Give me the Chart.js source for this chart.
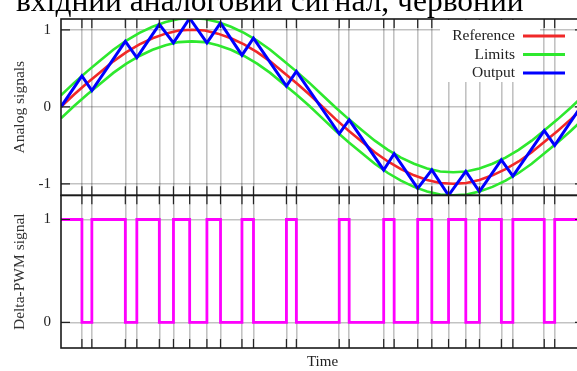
<!DOCTYPE html>
<html>
<head>
<meta charset="utf-8">
<script src="https://cdn.jsdelivr.net/npm/chart.js@4.4.1/dist/chart.umd.min.js"></script>
<style>
  html, body { margin: 0; padding: 0; background: #fff; overflow: hidden; }
  #wrap { position: relative; width: 600px; height: 371px; }
  #caption { position: absolute; left: 16px; top: -14px; font-family: "Liberation Serif", serif; font-size: 31.5px; line-height: 30px; white-space: nowrap; color: #000; z-index: 2; }
</style>
</head>
<body>
<div id="wrap">
  <div id="caption">вхідний аналоговий сигнал, червоний</div>
  <canvas id="chart" width="600" height="371"></canvas>
</div>
<script>
// Час у частках періоду (0..1), ось X
const refTimes = [0, 0.025, 0.05, 0.075, 0.1, 0.125, 0.15, 0.175, 0.2, 0.225, 0.25, 0.275, 0.3, 0.325, 0.35, 0.375, 0.4, 0.425, 0.45, 0.475, 0.5,
  0.525, 0.55, 0.575, 0.6, 0.625, 0.65, 0.675, 0.7, 0.725, 0.75, 0.775, 0.8, 0.825, 0.85, 0.875, 0.9, 0.925, 0.95, 0.975, 1];

// Вхідний аналоговий сигнал (червоний)
const refValues = [0, 0.16, 0.31, 0.45, 0.59, 0.71, 0.81, 0.89, 0.95, 0.99, 1, 0.99, 0.95, 0.89, 0.81, 0.71, 0.59, 0.45, 0.31, 0.16, 0,
  -0.16, -0.31, -0.45, -0.59, -0.71, -0.81, -0.89, -0.95, -0.99, -1, -0.99, -0.95, -0.89, -0.81, -0.71, -0.59, -0.45, -0.31, -0.16, 0];

// Межі (зелені)
const upperLimit = [0.15, 0.31, 0.46, 0.6, 0.74, 0.86, 0.96, 1.04, 1.1, 1.14, 1.15, 1.14, 1.1, 1.04, 0.96, 0.86, 0.74, 0.6, 0.46, 0.31, 0.15,
  -0.01, -0.16, -0.3, -0.44, -0.56, -0.66, -0.74, -0.8, -0.84, -0.85, -0.84, -0.8, -0.74, -0.66, -0.56, -0.44, -0.3, -0.16, -0.01, 0.15];
const lowerLimit = [-0.15, 0.01, 0.16, 0.3, 0.44, 0.56, 0.66, 0.74, 0.8, 0.84, 0.85, 0.84, 0.8, 0.74, 0.66, 0.56, 0.44, 0.3, 0.16, 0.01, -0.15,
  -0.31, -0.46, -0.6, -0.74, -0.86, -0.96, -1.04, -1.1, -1.14, -1.15, -1.14, -1.1, -1.04, -0.96, -0.86, -0.74, -0.6, -0.46, -0.31, -0.15];

// Моменти перемикання (вертикальні лінії сітки)
const switchTimes = [0.040, 0.059, 0.123, 0.145, 0.188, 0.215, 0.246, 0.279, 0.305, 0.346, 0.368, 0.431, 0.450,
  0.532, 0.551, 0.617, 0.637, 0.682, 0.709, 0.741, 0.774, 0.800, 0.842, 0.864, 0.924, 0.944];

// Вихід (синій) у точках перемикання
const outTimes = [0, ...switchTimes, 1];
const outValues = [0, 0.40, 0.21, 0.85, 0.64, 1.07, 0.83, 1.15, 0.83, 1.09, 0.67, 0.89, 0.27, 0.46,
  -0.35, -0.17, -0.82, -0.61, -1.06, -0.82, -1.15, -0.84, -1.10, -0.69, -0.90, -0.31, -0.50, 0.06];

// Delta-PWM сигнал (рівень від кожного моменту)
const pwmTimes = [0, ...switchTimes, 1];
const pwmLevels = [1, 0, 1, 0, 1, 0, 1, 0, 1, 0, 1, 0, 1, 0, 1, 0, 1, 0, 1, 0, 1, 0, 1, 0, 1, 0, 1, 1];

const analogTicks = [-1, 0, 1];
const pwmTicks = [0, 1];

const serif = '"Liberation Serif", "Times New Roman", serif';
const toPoints = (xs, ys) => ys.map((y, i) => ({ x: xs[i], y: y }));

const legendItems = [
  { label: 'Reference', color: '#f02828' },
  { label: 'Limits', color: '#2ee82e' },
  { label: 'Output', color: '#0000ff' }
];

// Рамка, внутрішні засічки та легенда в стилі gnuplot
const framePlugin = {
  id: 'frame',
  afterDatasetsDraw(chart) {
    const { ctx, chartArea: a, scales: { x, yA, yP } } = chart;
    const tick = 9;
    ctx.save();
    ctx.strokeStyle = '#222';
    ctx.lineWidth = 1.2;
    ctx.beginPath();
    switchTimes.forEach(t => {
      const px = x.getPixelForValue(t);
      [[yA.top, tick], [yA.bottom, -tick], [yP.top, tick], [yP.bottom, -tick]].forEach(([y0, d]) => {
        ctx.moveTo(px, y0); ctx.lineTo(px, y0 + d);
      });
    });
    [[yA, analogTicks], [yP, pwmTicks]].forEach(([s, vals]) => {
      vals.forEach(v => {
        const py = s.getPixelForValue(v);
        ctx.moveTo(a.left, py); ctx.lineTo(a.left + tick, py);
        ctx.moveTo(a.right, py); ctx.lineTo(a.right - tick, py);
      });
    });
    ctx.stroke();

    // легенда
    const bx = a.right - 144, by = yA.top + 1;
    ctx.fillStyle = '#fff';
    ctx.fillRect(bx, by, 100, 62);
    ctx.font = '15.5px ' + serif;
    ctx.textAlign = 'right';
    ctx.textBaseline = 'middle';
    legendItems.forEach((it, i) => {
      const ly = yA.top + 17 + i * 18.5;
      ctx.fillStyle = '#222';
      ctx.fillText(it.label, a.right - 69, ly);
      ctx.strokeStyle = it.color;
      ctx.lineWidth = 3;
      ctx.beginPath();
      ctx.moveTo(a.right - 61, ly); ctx.lineTo(a.right - 19, ly);
      ctx.stroke();
    });

    // рамки обох графіків
    ctx.strokeStyle = '#1a1a1a';
    ctx.lineWidth = 1.6;
    ctx.strokeRect(a.left, yA.top, a.right - a.left, yA.bottom - yA.top);
    ctx.strokeRect(a.left, yP.top, a.right - a.left, yP.bottom - yP.top);
    ctx.restore();
  }
};

const gridColor = 'rgba(0,0,0,0.24)';

new Chart(document.getElementById('chart'), {
  type: 'line',
  data: {
    datasets: [
      { label: 'Output', data: toPoints(outTimes, outValues), yAxisID: 'yA', borderColor: '#0000ff', borderWidth: 3, pointRadius: 0, order: 0 },
      { label: 'Limits', data: toPoints(refTimes, upperLimit), yAxisID: 'yA', borderColor: '#2ee82e', borderWidth: 2.6, pointRadius: 0, order: 1 },
      { label: 'Limits', data: toPoints(refTimes, lowerLimit), yAxisID: 'yA', borderColor: '#2ee82e', borderWidth: 2.6, pointRadius: 0, order: 1 },
      { label: 'Reference', data: toPoints(refTimes, refValues), yAxisID: 'yA', borderColor: '#f02828', borderWidth: 2.6, pointRadius: 0, order: 2 },
      { label: 'Delta-PWM', data: toPoints(pwmTimes, pwmLevels), yAxisID: 'yP', borderColor: '#ff00ff', borderWidth: 2.8, pointRadius: 0, stepped: 'before', order: 0 }
    ]
  },
  options: {
    responsive: false,
    animation: false,
    events: [],
    layout: { padding: { left: 0, top: 15, right: 16, bottom: 0 } },
    plugins: { legend: { display: false }, tooltip: { enabled: false } },
    scales: {
      x: {
        type: 'linear', min: 0, max: 1,
        afterBuildTicks: s => { s.ticks = switchTimes.map(v => ({ value: v })); },
        afterFit: s => { s.height = 23; },
        ticks: { display: false },
        grid: { color: gridColor, lineWidth: 1.6, drawTicks: false },
        border: { display: false },
        title: { display: true, text: 'Time', font: { family: serif, size: 15 }, color: '#222', padding: 0 }
      },
      yA: {
        type: 'linear', position: 'left', stack: 'plots', stackWeight: 178.5, weight: 1,
        min: -1.15, max: 1.14,
        afterBuildTicks: s => { s.ticks = analogTicks.map(v => ({ value: v })); },
        afterFit: s => { s.width = 61; },
        ticks: { font: { family: serif, size: 15 }, color: '#222', padding: 10, callback: v => String(v) },
        grid: { color: gridColor, lineWidth: 1.6, drawTicks: false },
        border: { display: false },
        title: { display: true, text: 'Analog signals', font: { family: serif, size: 15.5 }, color: '#333', padding: { top: 11 } }
      },
      yP: {
        type: 'linear', position: 'left', stack: 'plots', stackWeight: 154.5, weight: 0,
        min: -0.25, max: 1.235,
        afterBuildTicks: s => { s.ticks = pwmTicks.map(v => ({ value: v })); },
        afterFit: s => { s.width = 61; },
        ticks: { font: { family: serif, size: 15 }, color: '#222', padding: 10, callback: v => String(v) },
        grid: { color: gridColor, lineWidth: 1.6, drawTicks: false },
        border: { display: false },
        title: { display: true, text: 'Delta-PWM signal', font: { family: serif, size: 15.5 }, color: '#333', padding: { top: 11 } }
      }
    }
  },
  plugins: [framePlugin]
});
</script>
</body>
</html>
